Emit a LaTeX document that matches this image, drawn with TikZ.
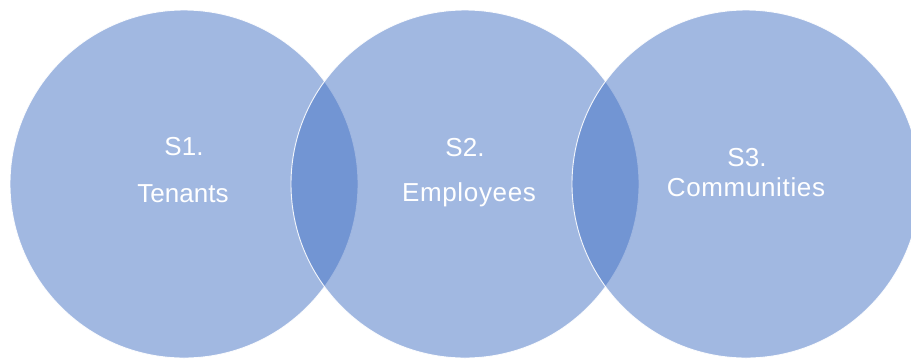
\documentclass[tikz,border=0pt]{standalone}
\usepackage{fontspec}
\setmainfont{Liberation Sans}
\definecolor{setblue}{HTML}{4472C4}
\begin{document}
\begin{tikzpicture}[x=1pt,y=-1pt,
  setcircle/.style={circle,minimum size=348pt,inner sep=0pt,fill=setblue,fill opacity=0.5,draw=white,draw opacity=0.9,line width=0.9pt},
  lbl/.style={text=white,inner sep=0pt,anchor=base,font=\fontsize{26}{30}\selectfont},
  widelbl/.style={lbl,font=\fontsize{26}{30}\selectfont\addfontfeature{LetterSpace=2.5}}]
\useasboundingbox (0,0) rectangle (911,360);
\clip (0,0) rectangle (911,360);
\node[setcircle] (c1) at (184,184) {};
\node[setcircle] (c2) at (465,184) {};
\node[setcircle] (c3) at (746,184) {};
\node[lbl] (s1) at (184,155) {S1.};
\node[lbl] (t1) at (183,202) {Tenants};
\node[lbl] (s2) at (465,156) {S2.};
\node[widelbl] (t2) at (469,201) {Employees};
\node[lbl] (s3) at (747,166) {S3.};
\node[widelbl] (t3) at (746,196) {Communities};
\end{tikzpicture}
\end{document}
